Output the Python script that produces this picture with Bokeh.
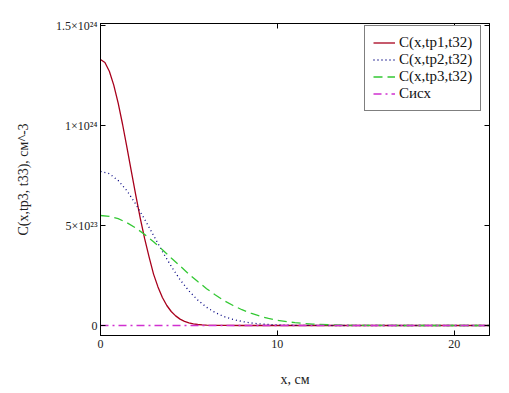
from bokeh.plotting import figure
from bokeh.models import Range1d, LinearAxis, FixedTicker
from bokeh.embed import file_html
from bokeh.resources import INLINE

# ---- data (concentrations in units of 1e24 cm^-3) ----
UNIT = 1e24
x_tp1 = [0, 0.25, 0.5, 0.75, 1, 1.25, 1.5, 1.75, 2, 2.25, 2.5, 2.75, 3, 3.25, 3.5, 3.75,
         4, 4.25, 4.5, 4.75, 5, 5.25, 5.5, 5.75, 6, 6.5, 7, 8, 10, 14, 18, 22]
c_tp1 = [1.33, 1.315, 1.271, 1.202, 1.112, 1.005, 0.888, 0.768, 0.649, 0.536, 0.433, 0.342,
         0.257, 0.193, 0.14, 0.10, 0.07, 0.048, 0.032, 0.021, 0.013, 0.008, 0.005, 0.003,
         0.0018, 0.0006, 0.0002, 0, 0, 0, 0, 0]
x = [0, 0.5, 1, 1.5, 2, 2.5, 3, 3.5, 4, 4.5, 5, 5.5, 6, 6.5, 7, 7.5, 8, 8.5, 9, 9.5, 10,
     11, 12, 13, 14, 15, 16, 17, 18, 19, 20, 21, 22]
c_tp2 = [0.77, 0.759, 0.725, 0.673, 0.606, 0.530, 0.450, 0.370, 0.296, 0.229, 0.173, 0.127,
         0.091, 0.064, 0.044, 0.030, 0.020, 0.013, 0.008, 0.005, 0.003,
         0.001, 0.0003, 0.0001, 0, 0, 0, 0, 0, 0, 0, 0, 0]
c_tp3 = [0.55, 0.546, 0.534, 0.514, 0.487, 0.455, 0.419, 0.379, 0.338, 0.2975, 0.257, 0.2196,
         0.184, 0.1526, 0.124, 0.0998, 0.0789, 0.0614, 0.0471, 0.0355, 0.0264,
         0.014, 0.007, 0.0033, 0.0014, 0.0006, 0.0002, 0, 0, 0, 0, 0, 0]
c_isx = [0.000001] * len(x)

series_labels = ["C(x,tp1,t32)", "C(x,tp2,t32)", "C(x,tp3,t32)", "Сисх"]
x_ticks = [0, 10, 20]
y_ticks = [0, 5e23, 1e24, 1.5e24]
y_tick_labels = ["0", "5×10²³", "1×10²⁴", "1.5×10²⁴"]
x_title = "x, см"
y_title = "C(x,tp3, t33), см^-3"

SERIF = "Times New Roman"

p = figure(frame_width=389, frame_height=312,
           min_border_left=100, min_border_right=20, min_border_top=23, min_border_bottom=58,
           x_range=Range1d(0, 22), y_range=Range1d(-5e22, 1.51e24),
           output_backend="svg", toolbar_location=None)
p.grid.visible = False
p.outline_line_color = "black"
p.background_fill_color = "white"
p.border_fill_color = "white"

def to_abs(vals):
    return [v * UNIT for v in vals]

p.line(x_tp1, to_abs(c_tp1), line_color="#A8001C", line_width=1.3, legend_label=series_labels[0])
p.line(x, to_abs(c_tp2), line_color="#000080", line_width=1.3, line_dash="1 3", legend_label=series_labels[1])
p.line(x, to_abs(c_tp3), line_color="#33C833", line_width=1.3, line_dash="9 5", legend_label=series_labels[2])
p.line(x, to_abs(c_isx), line_color="#D030D0", line_width=1.3, line_dash="8 4 2 4", legend_label=series_labels[3])

def style_axis(ax, ticks):
    ax.ticker = FixedTicker(ticks=ticks)
    ax.axis_line_color = "black"
    ax.major_tick_line_color = "black"
    ax.major_tick_in = 5
    ax.major_tick_out = 0
    ax.minor_tick_line_color = None
    ax.major_label_text_font = SERIF
    ax.major_label_text_font_size = "12px"
    ax.major_label_text_color = "#222222"
    ax.axis_label_text_font = SERIF
    ax.axis_label_text_font_style = "normal"
    ax.axis_label_text_font_size = "14px"
    ax.axis_label_text_color = "#222222"

xa = p.xaxis[0]
style_axis(xa, x_ticks)
xa.axis_label = x_title
xa.major_label_standoff = 4
xa.axis_label_standoff = 21

ya = p.yaxis[0]
style_axis(ya, y_ticks)
ya.axis_label = y_title
ya.major_label_overrides = {t: s for t, s in zip(y_ticks, y_tick_labels)}
ya.major_label_standoff = 3
ya.axis_label_standoff = 22

top = LinearAxis()
style_axis(top, x_ticks)
top.major_label_overrides = {t: "" for t in x_ticks}
top.major_label_standoff = 0
p.add_layout(top, "above")

right = LinearAxis()
style_axis(right, y_ticks)
right.major_label_overrides = {t: "" for t in y_ticks}
right.major_label_standoff = 0
p.add_layout(right, "right")

lg = p.legend[0]
lg.location = (264, 224)
lg.border_line_color = "black"
lg.border_line_width = 1
lg.background_fill_color = "white"
lg.background_fill_alpha = 1
lg.padding = 8
lg.spacing = 0
lg.margin = 0
lg.glyph_width = 22
lg.glyph_height = 15
lg.label_height = 15
lg.label_standoff = 4
lg.label_text_font = SERIF
lg.label_text_font_size = "15px"
lg.label_text_color = "#111111"

open("out.html", "w").write(file_html(p, INLINE))
